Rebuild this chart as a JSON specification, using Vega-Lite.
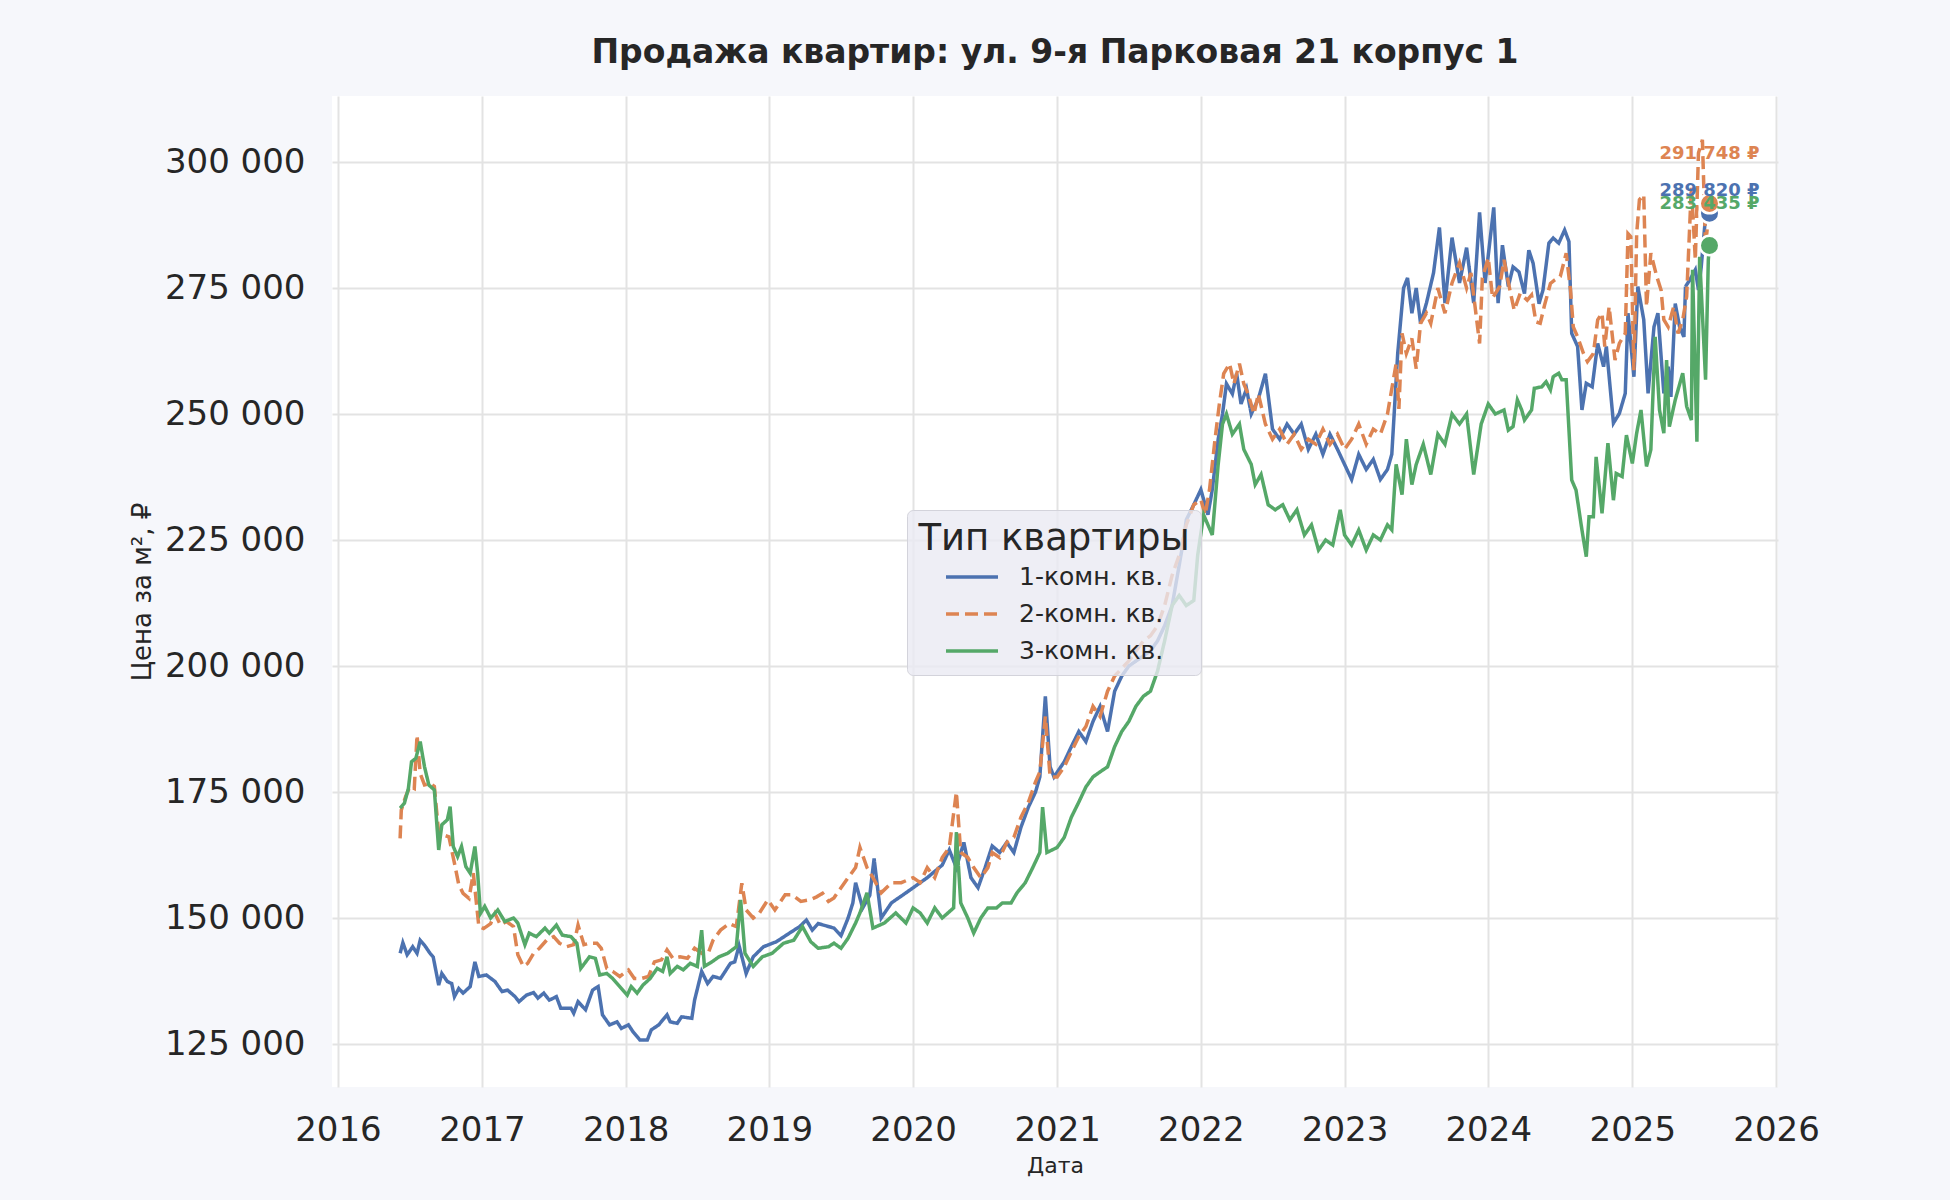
{
  "$schema": "https://vega.github.io/schema/vega-lite/v6.json",
  "width": 1446,
  "height": 991,
  "autosize": "none",
  "padding": {"left": 332, "top": 96, "right": 172, "bottom": 113},
  "background": "#F6F7FB",
  "config": {
    "font": "DejaVu Sans",
    "view": {"fill": "#FFFFFF", "stroke": null},
    "axis": {"gridColor": "#E3E3E3", "gridWidth": 2, "domain": false, "ticks": false, "labelColor": "#262626", "titleColor": "#262626"}
  },
  "title": {
    "text": "Продажа квартир: ул. 9-я Парковая 21 корпус 1",
    "fontSize": 33,
    "fontWeight": "bold",
    "color": "#262626",
    "anchor": "middle",
    "offset": 26
  },
  "datasets": {
    "series": [
      {"d":"2016-06-07","k":"1","p":143000},{"d":"2016-06-14","k":"1","p":145100},{"d":"2016-06-25","k":"1","p":142700},{"d":"2016-07-09","k":"1","p":144300},
      {"d":"2016-07-20","k":"1","p":143000},{"d":"2016-07-28","k":"1","p":145600},{"d":"2016-08-08","k":"1","p":144600},{"d":"2016-08-22","k":"1","p":143000},
      {"d":"2016-08-30","k":"1","p":142300},{"d":"2016-09-13","k":"1","p":136700},{"d":"2016-09-21","k":"1","p":139000},{"d":"2016-10-05","k":"1","p":137400},
      {"d":"2016-10-16","k":"1","p":137000},{"d":"2016-10-23","k":"1","p":134400},{"d":"2016-11-03","k":"1","p":136000},{"d":"2016-11-14","k":"1","p":135100},
      {"d":"2016-12-02","k":"1","p":136400},{"d":"2016-12-14","k":"1","p":141300},{"d":"2016-12-24","k":"1","p":138400},{"d":"2017-01-12","k":"1","p":138700},
      {"d":"2017-02-03","k":"1","p":137400},{"d":"2017-02-21","k":"1","p":135400},{"d":"2017-03-07","k":"1","p":135700},{"d":"2017-03-26","k":"1","p":134400},
      {"d":"2017-04-05","k":"1","p":133400},{"d":"2017-04-24","k":"1","p":134700},{"d":"2017-05-12","k":"1","p":135200},{"d":"2017-05-23","k":"1","p":134100},
      {"d":"2017-06-07","k":"1","p":135100},{"d":"2017-06-21","k":"1","p":133700},{"d":"2017-07-09","k":"1","p":134400},{"d":"2017-07-20","k":"1","p":132100},
      {"d":"2017-08-15","k":"1","p":132100},{"d":"2017-08-22","k":"1","p":131100},{"d":"2017-09-02","k":"1","p":133400},{"d":"2017-09-21","k":"1","p":131800},
      {"d":"2017-10-09","k":"1","p":135700},{"d":"2017-10-23","k":"1","p":136400},{"d":"2017-11-03","k":"1","p":130800},{"d":"2017-11-21","k":"1","p":128800},
      {"d":"2017-12-10","k":"1","p":129400},{"d":"2017-12-21","k":"1","p":128100},{"d":"2018-01-08","k":"1","p":128800},{"d":"2018-01-19","k":"1","p":127500},
      {"d":"2018-02-06","k":"1","p":125800},{"d":"2018-02-25","k":"1","p":125800},{"d":"2018-03-07","k":"1","p":127800},{"d":"2018-03-26","k":"1","p":128800},
      {"d":"2018-04-16","k":"1","p":130800},{"d":"2018-04-24","k":"1","p":129400},{"d":"2018-05-12","k":"1","p":129100},{"d":"2018-05-23","k":"1","p":130400},
      {"d":"2018-06-18","k":"1","p":130100},{"d":"2018-06-25","k":"1","p":133700},{"d":"2018-07-13","k":"1","p":139400},{"d":"2018-07-28","k":"1","p":137000},
      {"d":"2018-08-11","k":"1","p":138400},{"d":"2018-08-30","k":"1","p":138000},{"d":"2018-09-24","k":"1","p":141000},{"d":"2018-10-05","k":"1","p":141300},
      {"d":"2018-10-16","k":"1","p":144500},{"d":"2018-11-03","k":"1","p":139000},{"d":"2018-11-21","k":"1","p":142300},{"d":"2018-12-17","k":"1","p":144300},
      {"d":"2019-01-19","k":"1","p":145300},{"d":"2019-02-21","k":"1","p":147000},{"d":"2019-03-19","k":"1","p":148300},{"d":"2019-04-05","k":"1","p":149600},
      {"d":"2019-04-20","k":"1","p":147600},{"d":"2019-05-05","k":"1","p":148900},{"d":"2019-06-14","k":"1","p":148000},{"d":"2019-07-02","k":"1","p":146500},
      {"d":"2019-07-20","k":"1","p":150000},{"d":"2019-08-01","k":"1","p":153000},{"d":"2019-08-08","k":"1","p":157000},{"d":"2019-08-26","k":"1","p":152000},
      {"d":"2019-09-13","k":"1","p":154500},{"d":"2019-09-24","k":"1","p":161800},{"d":"2019-10-12","k":"1","p":150000},{"d":"2019-11-07","k":"1","p":153000},
      {"d":"2019-12-14","k":"1","p":155000},{"d":"2020-01-19","k":"1","p":157000},{"d":"2020-02-06","k":"1","p":158000},{"d":"2020-03-15","k":"1","p":160500},
      {"d":"2020-04-02","k":"1","p":163500},{"d":"2020-04-20","k":"1","p":160000},{"d":"2020-05-09","k":"1","p":165000},{"d":"2020-05-27","k":"1","p":158000},
      {"d":"2020-06-14","k":"1","p":156000},{"d":"2020-07-02","k":"1","p":160000},{"d":"2020-07-20","k":"1","p":164300},{"d":"2020-08-08","k":"1","p":163000},
      {"d":"2020-08-26","k":"1","p":165000},{"d":"2020-09-13","k":"1","p":163000},{"d":"2020-10-01","k":"1","p":168000},{"d":"2020-10-20","k":"1","p":172000},
      {"d":"2020-11-07","k":"1","p":175000},{"d":"2020-11-18","k":"1","p":178000},{"d":"2020-12-02","k":"1","p":194000},{"d":"2020-12-14","k":"1","p":180000},
      {"d":"2020-12-24","k":"1","p":178000},{"d":"2021-01-19","k":"1","p":181000},{"d":"2021-02-06","k":"1","p":184000},{"d":"2021-02-25","k":"1","p":187000},
      {"d":"2021-03-15","k":"1","p":185000},{"d":"2021-04-02","k":"1","p":189000},{"d":"2021-04-20","k":"1","p":192000},{"d":"2021-05-09","k":"1","p":187000},
      {"d":"2021-05-27","k":"1","p":195000},{"d":"2021-06-14","k":"1","p":198000},{"d":"2021-07-02","k":"1","p":200000},{"d":"2021-08-08","k":"1","p":202000},
      {"d":"2021-08-26","k":"1","p":203000},{"d":"2021-09-13","k":"1","p":205000},{"d":"2021-10-01","k":"1","p":208000},{"d":"2021-10-20","k":"1","p":212000},
      {"d":"2021-11-07","k":"1","p":220000},{"d":"2021-11-18","k":"1","p":225000},{"d":"2021-11-25","k":"1","p":229000},{"d":"2021-12-14","k":"1","p":232000},
      {"d":"2022-01-01","k":"1","p":235000},{"d":"2022-01-19","k":"1","p":230000},{"d":"2022-01-30","k":"1","p":235000},{"d":"2022-02-14","k":"1","p":245000},
      {"d":"2022-02-25","k":"1","p":250000},{"d":"2022-03-07","k":"1","p":256000},{"d":"2022-03-22","k":"1","p":254000},{"d":"2022-04-02","k":"1","p":258000},
      {"d":"2022-04-13","k":"1","p":252000},{"d":"2022-04-27","k":"1","p":255000},{"d":"2022-05-09","k":"1","p":250000},{"d":"2022-05-27","k":"1","p":253000},
      {"d":"2022-06-14","k":"1","p":258000},{"d":"2022-07-02","k":"1","p":247000},{"d":"2022-07-20","k":"1","p":245000},{"d":"2022-08-08","k":"1","p":248000},
      {"d":"2022-08-26","k":"1","p":246000},{"d":"2022-09-13","k":"1","p":248000},{"d":"2022-10-01","k":"1","p":243000},{"d":"2022-10-20","k":"1","p":246000},
      {"d":"2022-11-07","k":"1","p":242000},{"d":"2022-11-25","k":"1","p":246000},{"d":"2022-12-14","k":"1","p":243000},{"d":"2023-01-01","k":"1","p":240000},
      {"d":"2023-01-19","k":"1","p":237000},{"d":"2023-02-06","k":"1","p":242000},{"d":"2023-02-25","k":"1","p":239000},{"d":"2023-03-15","k":"1","p":241000},
      {"d":"2023-04-02","k":"1","p":237000},{"d":"2023-04-20","k":"1","p":239000},{"d":"2023-05-01","k":"1","p":242000},{"d":"2023-05-16","k":"1","p":262000},
      {"d":"2023-05-31","k":"1","p":275000},{"d":"2023-06-10","k":"1","p":277000},{"d":"2023-06-21","k":"1","p":270000},{"d":"2023-07-02","k":"1","p":275000},
      {"d":"2023-07-13","k":"1","p":268000},{"d":"2023-07-28","k":"1","p":272000},{"d":"2023-08-15","k":"1","p":278000},{"d":"2023-08-30","k":"1","p":287000},
      {"d":"2023-09-13","k":"1","p":272000},{"d":"2023-10-01","k":"1","p":285000},{"d":"2023-10-20","k":"1","p":276000},{"d":"2023-11-07","k":"1","p":283000},
      {"d":"2023-11-25","k":"1","p":272000},{"d":"2023-12-10","k":"1","p":290000},{"d":"2023-12-24","k":"1","p":276000},{"d":"2024-01-15","k":"1","p":291000},
      {"d":"2024-01-26","k":"1","p":272000},{"d":"2024-02-06","k":"1","p":283500},{"d":"2024-02-21","k":"1","p":275300},{"d":"2024-03-04","k":"1","p":279200},
      {"d":"2024-03-19","k":"1","p":278200},{"d":"2024-04-02","k":"1","p":273900},{"d":"2024-04-13","k":"1","p":282500},{"d":"2024-04-24","k":"1","p":279900},
      {"d":"2024-05-09","k":"1","p":271900},{"d":"2024-05-19","k":"1","p":274600},{"d":"2024-06-03","k":"1","p":283900},{"d":"2024-06-14","k":"1","p":284900},
      {"d":"2024-06-28","k":"1","p":283900},{"d":"2024-07-13","k":"1","p":286500},{"d":"2024-07-24","k":"1","p":284200},{"d":"2024-07-31","k":"1","p":266000},
      {"d":"2024-08-15","k":"1","p":263400},{"d":"2024-08-26","k":"1","p":250800},{"d":"2024-09-06","k":"1","p":256100},{"d":"2024-09-21","k":"1","p":255400},
      {"d":"2024-10-05","k":"1","p":264000},{"d":"2024-10-20","k":"1","p":259400},{"d":"2024-10-27","k":"1","p":263400},{"d":"2024-11-14","k":"1","p":248200},
      {"d":"2024-11-29","k":"1","p":250100},{"d":"2024-12-14","k":"1","p":254100},{"d":"2024-12-21","k":"1","p":270000},{"d":"2025-01-05","k":"1","p":257400},
      {"d":"2025-01-15","k":"1","p":275300},{"d":"2025-01-30","k":"1","p":268700},{"d":"2025-02-10","k":"1","p":254100},{"d":"2025-02-25","k":"1","p":267300},
      {"d":"2025-03-07","k":"1","p":270000},{"d":"2025-03-22","k":"1","p":254100},{"d":"2025-04-02","k":"1","p":259400},{"d":"2025-04-09","k":"1","p":253400},
      {"d":"2025-04-20","k":"1","p":271900},{"d":"2025-05-01","k":"1","p":267300},{"d":"2025-05-12","k":"1","p":265300},{"d":"2025-05-16","k":"1","p":275300},
      {"d":"2025-05-27","k":"1","p":276600},{"d":"2025-06-10","k":"1","p":278600},{"d":"2025-06-18","k":"1","p":274600},{"d":"2025-06-25","k":"1","p":279200},
      {"d":"2025-07-06","k":"1","p":289200},{"d":"2025-07-16","k":"1","p":289820},

      {"d":"2016-06-07","k":"2","p":165800},{"d":"2016-06-10","k":"2","p":171400},{"d":"2016-06-21","k":"2","p":174100},{"d":"2016-07-02","k":"2","p":176100},
      {"d":"2016-07-13","k":"2","p":175700},{"d":"2016-07-20","k":"2","p":186300},{"d":"2016-07-28","k":"2","p":178700},{"d":"2016-08-08","k":"2","p":176400},
      {"d":"2016-08-22","k":"2","p":176700},{"d":"2016-09-02","k":"2","p":176100},{"d":"2016-09-13","k":"2","p":166800},{"d":"2016-09-24","k":"2","p":166500},
      {"d":"2016-10-09","k":"2","p":166100},{"d":"2016-10-23","k":"2","p":160900},{"d":"2016-11-03","k":"2","p":156600},{"d":"2016-11-14","k":"2","p":154900},
      {"d":"2016-11-29","k":"2","p":153900},{"d":"2016-12-10","k":"2","p":158900},{"d":"2016-12-24","k":"2","p":148300},{"d":"2017-01-05","k":"2","p":147900},
      {"d":"2017-01-23","k":"2","p":148900},{"d":"2017-02-03","k":"2","p":150900},{"d":"2017-02-17","k":"2","p":148600},{"d":"2017-03-04","k":"2","p":149300},
      {"d":"2017-03-22","k":"2","p":148300},{"d":"2017-04-02","k":"2","p":142700},{"d":"2017-04-16","k":"2","p":140400},{"d":"2017-04-27","k":"2","p":141000},
      {"d":"2017-05-12","k":"2","p":143000},{"d":"2017-05-27","k":"2","p":144000},{"d":"2017-06-14","k":"2","p":145600},{"d":"2017-07-02","k":"2","p":146300},
      {"d":"2017-07-17","k":"2","p":145000},{"d":"2017-08-04","k":"2","p":144300},{"d":"2017-08-22","k":"2","p":144700},{"d":"2017-09-02","k":"2","p":148600},
      {"d":"2017-09-17","k":"2","p":144700},{"d":"2017-10-01","k":"2","p":145000},{"d":"2017-10-20","k":"2","p":145000},{"d":"2017-10-31","k":"2","p":144000},
      {"d":"2017-11-14","k":"2","p":140000},{"d":"2017-11-29","k":"2","p":139400},{"d":"2017-12-17","k":"2","p":138400},{"d":"2018-01-08","k":"2","p":139700},
      {"d":"2018-01-23","k":"2","p":138000},{"d":"2018-02-10","k":"2","p":138000},{"d":"2018-02-28","k":"2","p":138400},{"d":"2018-03-15","k":"2","p":141300},
      {"d":"2018-04-02","k":"2","p":141700},{"d":"2018-04-16","k":"2","p":143700},{"d":"2018-05-01","k":"2","p":142000},{"d":"2018-05-19","k":"2","p":142300},
      {"d":"2018-06-07","k":"2","p":142000},{"d":"2018-06-25","k":"2","p":144000},{"d":"2018-07-13","k":"2","p":143000},{"d":"2018-07-31","k":"2","p":143300},
      {"d":"2018-08-11","k":"2","p":145600},{"d":"2018-08-30","k":"2","p":147600},{"d":"2018-09-21","k":"2","p":148900},{"d":"2018-10-09","k":"2","p":148300},
      {"d":"2018-10-23","k":"2","p":156900},{"d":"2018-11-03","k":"2","p":151600},{"d":"2018-11-21","k":"2","p":150000},{"d":"2018-12-06","k":"2","p":150900},
      {"d":"2018-12-28","k":"2","p":153600},{"d":"2019-01-15","k":"2","p":151600},{"d":"2019-02-10","k":"2","p":154600},{"d":"2019-02-28","k":"2","p":154600},
      {"d":"2019-03-22","k":"2","p":153300},{"d":"2019-04-13","k":"2","p":153600},{"d":"2019-05-01","k":"2","p":154200},{"d":"2019-05-16","k":"2","p":154900},
      {"d":"2019-05-31","k":"2","p":153300},{"d":"2019-06-14","k":"2","p":154000},{"d":"2019-07-02","k":"2","p":156000},{"d":"2019-07-20","k":"2","p":158000},
      {"d":"2019-08-08","k":"2","p":160000},{"d":"2019-08-19","k":"2","p":164000},{"d":"2019-09-06","k":"2","p":160000},{"d":"2019-09-21","k":"2","p":158000},
      {"d":"2019-10-12","k":"2","p":155000},{"d":"2019-11-07","k":"2","p":157000},{"d":"2019-12-02","k":"2","p":157000},{"d":"2020-01-01","k":"2","p":158000},
      {"d":"2020-01-19","k":"2","p":157000},{"d":"2020-02-06","k":"2","p":160000},{"d":"2020-02-25","k":"2","p":158000},{"d":"2020-03-15","k":"2","p":162000},
      {"d":"2020-04-02","k":"2","p":164000},{"d":"2020-04-20","k":"2","p":175000},{"d":"2020-05-01","k":"2","p":163000},{"d":"2020-05-19","k":"2","p":162000},
      {"d":"2020-06-03","k":"2","p":160000},{"d":"2020-06-21","k":"2","p":158000},{"d":"2020-07-09","k":"2","p":160000},{"d":"2020-07-20","k":"2","p":163000},
      {"d":"2020-08-08","k":"2","p":162000},{"d":"2020-08-26","k":"2","p":165000},{"d":"2020-09-13","k":"2","p":166000},{"d":"2020-10-01","k":"2","p":170000},
      {"d":"2020-10-20","k":"2","p":173000},{"d":"2020-11-07","k":"2","p":177000},{"d":"2020-11-18","k":"2","p":179000},{"d":"2020-12-02","k":"2","p":190000},
      {"d":"2020-12-14","k":"2","p":178000},{"d":"2021-01-01","k":"2","p":178000},{"d":"2021-01-19","k":"2","p":180000},{"d":"2021-02-06","k":"2","p":183000},
      {"d":"2021-02-25","k":"2","p":186000},{"d":"2021-03-15","k":"2","p":188000},{"d":"2021-04-02","k":"2","p":192000},{"d":"2021-04-20","k":"2","p":190000},
      {"d":"2021-05-09","k":"2","p":195000},{"d":"2021-05-27","k":"2","p":198000},{"d":"2021-07-02","k":"2","p":201000},{"d":"2021-08-08","k":"2","p":205000},
      {"d":"2021-08-26","k":"2","p":206000},{"d":"2021-09-13","k":"2","p":208000},{"d":"2021-10-01","k":"2","p":212000},{"d":"2021-10-20","k":"2","p":218000},
      {"d":"2021-11-07","k":"2","p":222000},{"d":"2021-11-25","k":"2","p":228000},{"d":"2021-12-14","k":"2","p":232000},{"d":"2022-01-01","k":"2","p":233000},
      {"d":"2022-01-12","k":"2","p":230000},{"d":"2022-01-23","k":"2","p":235000},{"d":"2022-02-06","k":"2","p":245000},{"d":"2022-02-17","k":"2","p":252000},
      {"d":"2022-02-28","k":"2","p":258000},{"d":"2022-03-15","k":"2","p":260000},{"d":"2022-03-26","k":"2","p":256000},{"d":"2022-04-09","k":"2","p":260000},
      {"d":"2022-04-20","k":"2","p":256000},{"d":"2022-05-01","k":"2","p":254000},{"d":"2022-05-16","k":"2","p":250000},{"d":"2022-05-27","k":"2","p":254000},
      {"d":"2022-06-14","k":"2","p":248000},{"d":"2022-07-02","k":"2","p":245000},{"d":"2022-07-20","k":"2","p":247000},{"d":"2022-08-08","k":"2","p":244000},
      {"d":"2022-08-26","k":"2","p":246000},{"d":"2022-09-13","k":"2","p":243000},{"d":"2022-10-01","k":"2","p":245000},{"d":"2022-10-20","k":"2","p":244000},
      {"d":"2022-11-07","k":"2","p":247000},{"d":"2022-11-25","k":"2","p":244000},{"d":"2022-12-14","k":"2","p":246000},{"d":"2023-01-01","k":"2","p":243000},
      {"d":"2023-01-19","k":"2","p":245000},{"d":"2023-02-06","k":"2","p":248000},{"d":"2023-02-25","k":"2","p":244000},{"d":"2023-03-15","k":"2","p":247000},
      {"d":"2023-04-02","k":"2","p":246000},{"d":"2023-04-20","k":"2","p":250000},{"d":"2023-05-01","k":"2","p":255000},{"d":"2023-05-12","k":"2","p":260000},
      {"d":"2023-05-19","k":"2","p":251000},{"d":"2023-05-27","k":"2","p":266000},{"d":"2023-06-07","k":"2","p":262000},{"d":"2023-06-21","k":"2","p":265000},
      {"d":"2023-07-02","k":"2","p":259000},{"d":"2023-07-13","k":"2","p":268000},{"d":"2023-07-28","k":"2","p":270000},{"d":"2023-08-08","k":"2","p":268000},
      {"d":"2023-08-26","k":"2","p":275000},{"d":"2023-09-13","k":"2","p":270000},{"d":"2023-10-01","k":"2","p":276000},{"d":"2023-10-20","k":"2","p":280000},
      {"d":"2023-11-07","k":"2","p":275000},{"d":"2023-11-18","k":"2","p":278000},{"d":"2023-12-10","k":"2","p":264000},{"d":"2023-12-17","k":"2","p":277000},
      {"d":"2024-01-01","k":"2","p":281000},{"d":"2024-01-12","k":"2","p":273000},{"d":"2024-01-30","k":"2","p":275300},{"d":"2024-02-10","k":"2","p":280600},
      {"d":"2024-02-25","k":"2","p":274600},{"d":"2024-03-07","k":"2","p":270600},{"d":"2024-03-22","k":"2","p":273900},{"d":"2024-04-09","k":"2","p":272600},
      {"d":"2024-04-20","k":"2","p":273600},{"d":"2024-05-01","k":"2","p":268300},{"d":"2024-05-12","k":"2","p":268000},{"d":"2024-05-23","k":"2","p":271600},
      {"d":"2024-06-07","k":"2","p":275900},{"d":"2024-06-18","k":"2","p":276600},{"d":"2024-07-02","k":"2","p":277300},{"d":"2024-07-17","k":"2","p":281900},
      {"d":"2024-07-28","k":"2","p":274600},{"d":"2024-08-04","k":"2","p":267300},{"d":"2024-08-15","k":"2","p":265300},{"d":"2024-08-30","k":"2","p":262000},
      {"d":"2024-09-09","k":"2","p":260400},{"d":"2024-09-24","k":"2","p":262000},{"d":"2024-10-05","k":"2","p":268700},{"d":"2024-10-16","k":"2","p":270000},
      {"d":"2024-10-23","k":"2","p":263400},{"d":"2024-11-03","k":"2","p":271300},{"d":"2024-11-18","k":"2","p":260700},{"d":"2024-11-29","k":"2","p":264000},
      {"d":"2024-12-14","k":"2","p":266000},{"d":"2024-12-21","k":"2","p":285800},{"d":"2024-12-28","k":"2","p":285200},{"d":"2025-01-05","k":"2","p":258700},
      {"d":"2025-01-12","k":"2","p":285800},{"d":"2025-01-19","k":"2","p":292500},{"d":"2025-01-30","k":"2","p":293500},{"d":"2025-02-06","k":"2","p":271300},
      {"d":"2025-02-17","k":"2","p":281900},{"d":"2025-03-04","k":"2","p":277300},{"d":"2025-03-15","k":"2","p":274600},{"d":"2025-03-22","k":"2","p":268700},
      {"d":"2025-04-02","k":"2","p":267300},{"d":"2025-04-16","k":"2","p":271300},{"d":"2025-04-27","k":"2","p":266000},{"d":"2025-05-09","k":"2","p":268700},
      {"d":"2025-05-19","k":"2","p":273300},{"d":"2025-05-31","k":"2","p":295100},{"d":"2025-06-10","k":"2","p":280600},{"d":"2025-06-18","k":"2","p":301800},
      {"d":"2025-06-28","k":"2","p":304400},{"d":"2025-07-06","k":"2","p":283200},{"d":"2025-07-16","k":"2","p":291748},

      {"d":"2016-06-07","k":"3","p":171800},{"d":"2016-06-18","k":"3","p":172800},{"d":"2016-06-28","k":"3","p":175700},{"d":"2016-07-06","k":"3","p":181000},
      {"d":"2016-07-17","k":"3","p":181700},{"d":"2016-07-28","k":"3","p":185000},{"d":"2016-08-08","k":"3","p":180000},{"d":"2016-08-19","k":"3","p":176400},
      {"d":"2016-09-02","k":"3","p":175400},{"d":"2016-09-13","k":"3","p":163500},{"d":"2016-09-21","k":"3","p":168500},{"d":"2016-10-05","k":"3","p":169500},
      {"d":"2016-10-12","k":"3","p":172100},{"d":"2016-10-20","k":"3","p":164200},{"d":"2016-10-31","k":"3","p":162200},{"d":"2016-11-10","k":"3","p":164200},
      {"d":"2016-11-21","k":"3","p":160200},{"d":"2016-12-02","k":"3","p":158900},{"d":"2016-12-14","k":"3","p":164200},{"d":"2016-12-21","k":"3","p":158900},
      {"d":"2016-12-28","k":"3","p":150900},{"d":"2017-01-08","k":"3","p":152300},{"d":"2017-01-23","k":"3","p":150000},{"d":"2017-02-10","k":"3","p":151600},
      {"d":"2017-02-28","k":"3","p":149300},{"d":"2017-03-22","k":"3","p":150000},{"d":"2017-04-02","k":"3","p":149000},{"d":"2017-04-20","k":"3","p":144700},
      {"d":"2017-05-01","k":"3","p":147000},{"d":"2017-05-19","k":"3","p":146300},{"d":"2017-06-10","k":"3","p":148000},{"d":"2017-06-21","k":"3","p":147000},
      {"d":"2017-07-09","k":"3","p":148600},{"d":"2017-07-24","k":"3","p":146600},{"d":"2017-08-15","k":"3","p":146300},{"d":"2017-08-30","k":"3","p":145000},
      {"d":"2017-09-09","k":"3","p":140000},{"d":"2017-10-01","k":"3","p":142300},{"d":"2017-10-16","k":"3","p":142000},{"d":"2017-10-27","k":"3","p":138700},
      {"d":"2017-11-14","k":"3","p":139000},{"d":"2017-11-29","k":"3","p":138000},{"d":"2017-12-17","k":"3","p":136400},{"d":"2018-01-05","k":"3","p":134700},
      {"d":"2018-01-15","k":"3","p":136400},{"d":"2018-01-30","k":"3","p":135100},{"d":"2018-02-14","k":"3","p":136700},{"d":"2018-03-04","k":"3","p":138000},
      {"d":"2018-03-22","k":"3","p":140000},{"d":"2018-04-05","k":"3","p":139400},{"d":"2018-04-16","k":"3","p":142300},{"d":"2018-04-24","k":"3","p":139000},
      {"d":"2018-05-12","k":"3","p":140400},{"d":"2018-05-27","k":"3","p":139700},{"d":"2018-06-14","k":"3","p":141000},{"d":"2018-07-02","k":"3","p":140400},
      {"d":"2018-07-13","k":"3","p":147600},{"d":"2018-07-20","k":"3","p":140400},{"d":"2018-08-08","k":"3","p":141300},{"d":"2018-08-26","k":"3","p":142300},
      {"d":"2018-09-17","k":"3","p":143000},{"d":"2018-10-09","k":"3","p":144300},{"d":"2018-10-20","k":"3","p":153600},{"d":"2018-10-31","k":"3","p":143000},
      {"d":"2018-11-21","k":"3","p":140400},{"d":"2018-12-14","k":"3","p":142300},{"d":"2019-01-08","k":"3","p":143000},{"d":"2019-02-06","k":"3","p":145000},
      {"d":"2019-03-04","k":"3","p":145600},{"d":"2019-03-26","k":"3","p":148300},{"d":"2019-04-16","k":"3","p":145300},{"d":"2019-05-05","k":"3","p":144000},
      {"d":"2019-05-31","k":"3","p":144300},{"d":"2019-06-14","k":"3","p":145000},{"d":"2019-07-02","k":"3","p":144000},{"d":"2019-07-20","k":"3","p":146000},
      {"d":"2019-08-08","k":"3","p":149000},{"d":"2019-08-19","k":"3","p":151000},{"d":"2019-09-06","k":"3","p":155000},{"d":"2019-09-21","k":"3","p":148000},
      {"d":"2019-10-20","k":"3","p":149000},{"d":"2019-11-18","k":"3","p":151000},{"d":"2019-12-14","k":"3","p":149000},{"d":"2020-01-01","k":"3","p":152000},
      {"d":"2020-01-19","k":"3","p":151000},{"d":"2020-02-06","k":"3","p":149000},{"d":"2020-02-25","k":"3","p":152000},{"d":"2020-03-15","k":"3","p":150000},
      {"d":"2020-04-13","k":"3","p":152000},{"d":"2020-04-20","k":"3","p":167000},{"d":"2020-05-01","k":"3","p":153000},{"d":"2020-05-19","k":"3","p":150000},
      {"d":"2020-06-03","k":"3","p":147000},{"d":"2020-06-21","k":"3","p":150000},{"d":"2020-07-09","k":"3","p":152000},{"d":"2020-07-31","k":"3","p":152000},
      {"d":"2020-08-15","k":"3","p":153000},{"d":"2020-09-06","k":"3","p":153000},{"d":"2020-09-21","k":"3","p":155000},{"d":"2020-10-12","k":"3","p":157000},
      {"d":"2020-10-31","k":"3","p":160000},{"d":"2020-11-18","k":"3","p":163000},{"d":"2020-11-25","k":"3","p":172000},{"d":"2020-12-06","k":"3","p":163000},
      {"d":"2021-01-01","k":"3","p":164000},{"d":"2021-01-19","k":"3","p":166000},{"d":"2021-02-06","k":"3","p":170000},{"d":"2021-02-25","k":"3","p":173000},
      {"d":"2021-03-15","k":"3","p":176000},{"d":"2021-04-02","k":"3","p":178000},{"d":"2021-04-20","k":"3","p":179000},{"d":"2021-05-09","k":"3","p":180000},
      {"d":"2021-05-27","k":"3","p":184000},{"d":"2021-06-14","k":"3","p":187000},{"d":"2021-07-02","k":"3","p":189000},{"d":"2021-07-20","k":"3","p":192000},
      {"d":"2021-08-08","k":"3","p":194000},{"d":"2021-08-26","k":"3","p":195000},{"d":"2021-09-13","k":"3","p":199000},{"d":"2021-10-01","k":"3","p":205000},
      {"d":"2021-10-20","k":"3","p":212000},{"d":"2021-11-07","k":"3","p":214000},{"d":"2021-11-25","k":"3","p":212000},{"d":"2021-12-14","k":"3","p":213000},
      {"d":"2021-12-24","k":"3","p":222000},{"d":"2022-01-08","k":"3","p":230000},{"d":"2022-01-30","k":"3","p":226000},{"d":"2022-02-14","k":"3","p":240000},
      {"d":"2022-02-25","k":"3","p":248000},{"d":"2022-03-07","k":"3","p":250000},{"d":"2022-03-22","k":"3","p":246000},{"d":"2022-04-09","k":"3","p":248000},
      {"d":"2022-04-20","k":"3","p":243000},{"d":"2022-05-09","k":"3","p":240000},{"d":"2022-05-19","k":"3","p":236000},{"d":"2022-06-03","k":"3","p":238000},
      {"d":"2022-06-21","k":"3","p":232000},{"d":"2022-07-09","k":"3","p":231000},{"d":"2022-07-28","k":"3","p":232000},{"d":"2022-08-15","k":"3","p":229000},
      {"d":"2022-09-02","k":"3","p":231000},{"d":"2022-09-21","k":"3","p":226000},{"d":"2022-10-09","k":"3","p":228000},{"d":"2022-10-27","k":"3","p":223000},
      {"d":"2022-11-14","k":"3","p":225000},{"d":"2022-12-02","k":"3","p":224000},{"d":"2022-12-21","k":"3","p":231000},{"d":"2023-01-01","k":"3","p":226000},
      {"d":"2023-01-19","k":"3","p":224000},{"d":"2023-02-06","k":"3","p":227000},{"d":"2023-02-25","k":"3","p":223000},{"d":"2023-03-15","k":"3","p":226000},
      {"d":"2023-04-02","k":"3","p":225000},{"d":"2023-04-20","k":"3","p":228000},{"d":"2023-05-01","k":"3","p":227000},{"d":"2023-05-12","k":"3","p":240000},
      {"d":"2023-05-27","k":"3","p":234000},{"d":"2023-06-07","k":"3","p":245000},{"d":"2023-06-21","k":"3","p":236000},{"d":"2023-07-02","k":"3","p":240000},
      {"d":"2023-07-20","k":"3","p":244000},{"d":"2023-08-08","k":"3","p":238000},{"d":"2023-08-26","k":"3","p":246000},{"d":"2023-09-13","k":"3","p":244000},
      {"d":"2023-10-01","k":"3","p":250000},{"d":"2023-10-20","k":"3","p":248000},{"d":"2023-11-07","k":"3","p":250000},{"d":"2023-11-25","k":"3","p":238000},
      {"d":"2023-12-14","k":"3","p":248000},{"d":"2024-01-01","k":"3","p":252000},{"d":"2024-01-19","k":"3","p":250000},{"d":"2024-02-10","k":"3","p":250800},
      {"d":"2024-02-21","k":"3","p":246800},{"d":"2024-03-04","k":"3","p":247500},{"d":"2024-03-15","k":"3","p":252800},{"d":"2024-03-26","k":"3","p":250800},
      {"d":"2024-04-02","k":"3","p":248800},{"d":"2024-04-20","k":"3","p":250800},{"d":"2024-04-27","k":"3","p":255100},{"d":"2024-05-16","k":"3","p":255400},
      {"d":"2024-05-27","k":"3","p":256400},{"d":"2024-06-07","k":"3","p":254800},{"d":"2024-06-14","k":"3","p":257400},{"d":"2024-06-28","k":"3","p":258100},
      {"d":"2024-07-06","k":"3","p":256800},{"d":"2024-07-17","k":"3","p":256800},{"d":"2024-07-31","k":"3","p":236900},{"d":"2024-08-11","k":"3","p":234900},
      {"d":"2024-08-26","k":"3","p":227000},{"d":"2024-09-06","k":"3","p":221700},{"d":"2024-09-13","k":"3","p":229600},{"d":"2024-09-24","k":"3","p":229600},
      {"d":"2024-10-01","k":"3","p":241500},{"d":"2024-10-16","k":"3","p":230300},{"d":"2024-10-31","k":"3","p":244200},{"d":"2024-11-14","k":"3","p":232900},
      {"d":"2024-11-21","k":"3","p":238200},{"d":"2024-12-06","k":"3","p":237600},{"d":"2024-12-17","k":"3","p":245800},{"d":"2025-01-01","k":"3","p":240200},
      {"d":"2025-01-12","k":"3","p":246200},{"d":"2025-01-23","k":"3","p":250800},{"d":"2025-02-06","k":"3","p":239600},{"d":"2025-02-17","k":"3","p":242900},
      {"d":"2025-02-28","k":"3","p":265300},{"d":"2025-03-11","k":"3","p":250800},{"d":"2025-03-22","k":"3","p":246200},{"d":"2025-03-29","k":"3","p":260700},
      {"d":"2025-04-05","k":"3","p":247500},{"d":"2025-04-20","k":"3","p":252800},{"d":"2025-05-09","k":"3","p":258100},{"d":"2025-05-19","k":"3","p":251500},
      {"d":"2025-05-31","k":"3","p":248800},{"d":"2025-06-03","k":"3","p":278600},{"d":"2025-06-14","k":"3","p":244500},{"d":"2025-06-21","k":"3","p":281200},
      {"d":"2025-07-06","k":"3","p":256800},{"d":"2025-07-13","k":"3","p":280600},{"d":"2025-07-16","k":"3","p":283435}
    ],
    "ends": [
      {"d":"2025-07-16","k":"1","p":289820,"lp":294250,"label":"289 820 ₽"},
      {"d":"2025-07-16","k":"2","p":291748,"lp":301600,"label":"291 748 ₽"},
      {"d":"2025-07-16","k":"3","p":283435,"lp":291650,"label":"283 435 ₽"}
    ]
  },
  "layer": [
    {
      "data": {"name": "series"},
      "mark": {"type": "line", "strokeWidth": 3.5},
      "encoding": {
        "x": {
          "field": "d", "type": "temporal", "title": "Дата",
          "scale": {"domain": ["2015-12-17", "2026-01-06"], "nice": false},
          "axis": {
            "values": [{"year": 2016}, {"year": 2017}, {"year": 2018}, {"year": 2019}, {"year": 2020}, {"year": 2021}, {"year": 2022}, {"year": 2023}, {"year": 2024}, {"year": 2025}, {"year": 2026}],
            "format": "%Y", "labelFontSize": 34, "labelPadding": 26, "titleFontSize": 22, "titleFontWeight": "normal", "titlePadding": 8, "labelFlush": false
          }
        },
        "y": {
          "field": "p", "type": "quantitative", "title": "Цена за м², ₽",
          "scale": {"domain": [116470, 313100], "nice": false, "zero": false},
          "axis": {
            "values": [125000, 150000, 175000, 200000, 225000, 250000, 275000, 300000],
            "labelExpr": "replace(format(datum.value, ','), ',', ' ')",
            "labelFontSize": 34, "labelPadding": 27, "titleFontSize": 26, "titleFontWeight": "normal", "titlePadding": 9
          }
        },
        "color": {
          "field": "k", "type": "nominal",
          "scale": {"domain": ["1", "2", "3"], "range": ["#4C72B0", "#DD8452", "#55A868"]},
          "legend": {
            "title": "Тип квартиры",
            "orient": "none", "legendX": 575, "legendY": 414,
            "labelExpr": "datum.label + '-комн. кв.'",
            "titleFontSize": 37, "titleFontWeight": "normal", "titleColor": "#262626", "titleAnchor": "middle", "titlePadding": 4, "titleLimit": 600,
            "labelFontSize": 25, "labelColor": "#262626", "labelOffset": 32, "labelLimit": 400,
            "symbolType": "M-2,0H2", "symbolSize": 676, "symbolStrokeWidth": 3.5, "symbolOffset": 13,
            "rowPadding": 9, "padding": 11,
            "fillColor": "rgba(234,234,242,0.8)", "strokeColor": "#D3D3DB", "cornerRadius": 6
          }
        },
        "strokeDash": {
          "field": "k", "type": "nominal",
          "scale": {"domain": ["1", "2", "3"], "range": [[1, 0], [13, 6], [1, 0]]}
        }
      }
    },
    {
      "data": {"name": "ends"},
      "mark": {"type": "circle", "size": 380, "opacity": 1, "stroke": "white", "strokeWidth": 2.5},
      "encoding": {
        "x": {"field": "d", "type": "temporal"},
        "y": {"field": "p", "type": "quantitative"},
        "color": {"field": "k", "type": "nominal"}
      }
    },
    {
      "data": {"name": "ends"},
      "mark": {"type": "text", "fontSize": 18, "fontWeight": "bold", "align": "center", "baseline": "middle"},
      "encoding": {
        "x": {"field": "d", "type": "temporal"},
        "y": {"field": "lp", "type": "quantitative"},
        "text": {"field": "label"},
        "color": {"field": "k", "type": "nominal"}
      }
    }
  ]
}
